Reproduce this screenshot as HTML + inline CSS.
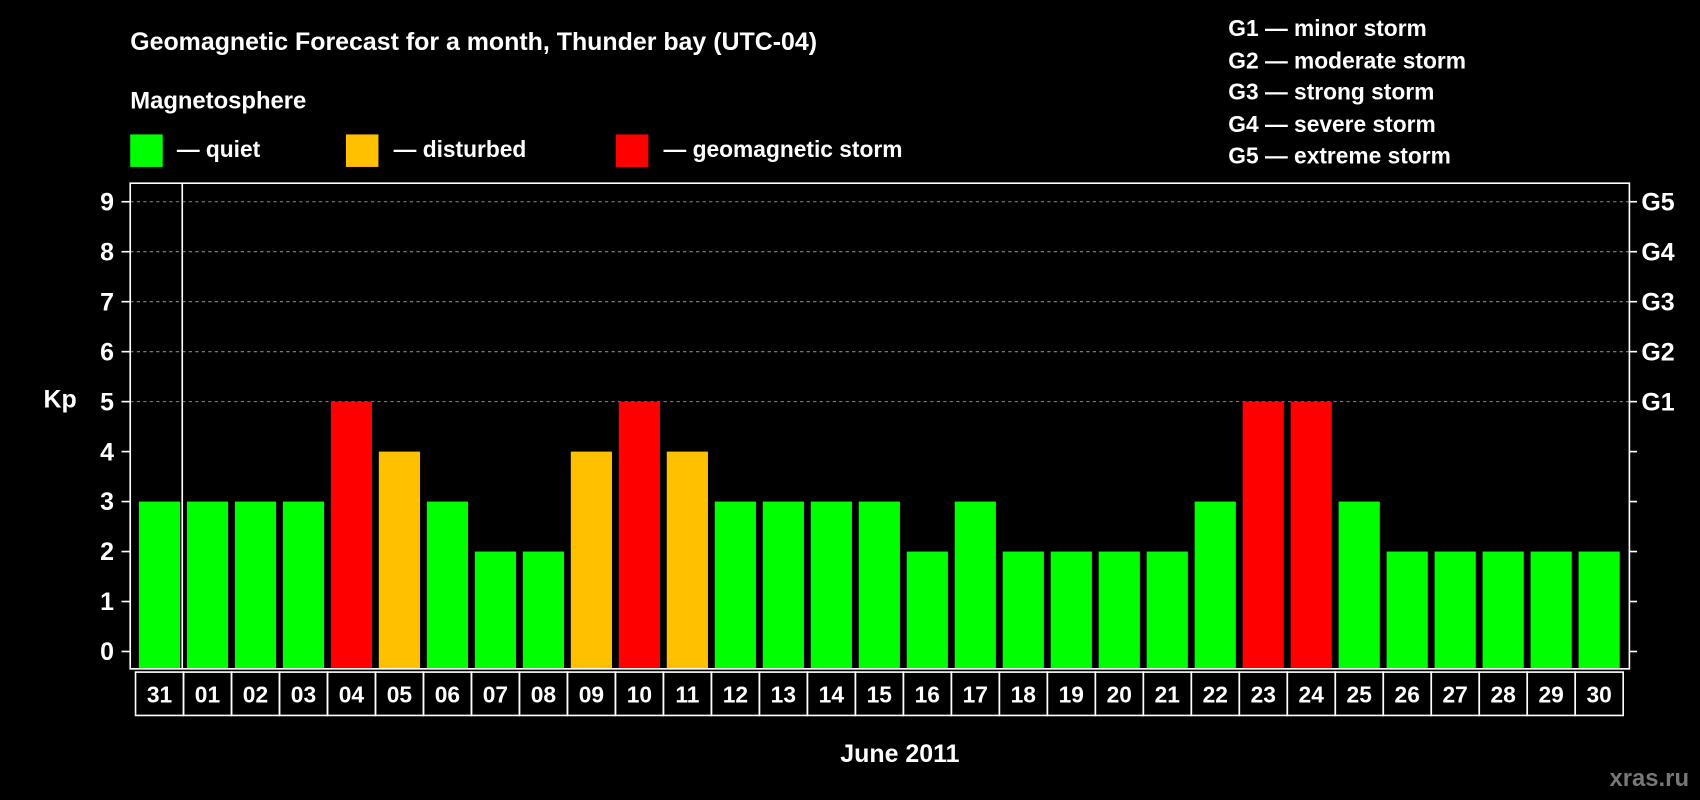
<!DOCTYPE html>
<html><head><meta charset="utf-8"><style>
html,body{margin:0;padding:0;background:#000;}
svg{display:block;font-family:"Liberation Sans",Arial,sans-serif;font-weight:bold;}
</style></head><body>
<svg id="chart" width="1700" height="800" viewBox="0 0 1568 738" xmlns="http://www.w3.org/2000/svg">
<rect x="0" y="0" width="1568" height="738" fill="#000"/>
<text x="120" y="46" fill="#fff" font-size="23">Geomagnetic Forecast for a month, Thunder bay (UTC-04)</text>
<text x="120" y="100" fill="#fff" font-size="22">Magnetosphere</text>
<g><rect x="120" y="124" width="30" height="30" fill="#00ff00"/><text x="163" y="145" fill="#fff" font-size="21">— quiet</text></g>
<g><rect x="319" y="124" width="30" height="30" fill="#ffc000"/><text x="363" y="145" fill="#fff" font-size="21">— disturbed</text></g>
<g><rect x="568" y="124" width="30" height="30" fill="#ff0000"/><text x="612" y="145" fill="#fff" font-size="21">— geomagnetic storm</text></g>
<g fill="#fff" font-size="21">
<text x="1133" y="33">G1 — minor storm</text>
<text x="1133" y="63">G2 — moderate storm</text>
<text x="1133" y="92">G3 — strong storm</text>
<text x="1133" y="122">G4 — severe storm</text>
<text x="1133" y="151">G5 — extreme storm</text>
</g>
<text x="40" y="376" fill="#fff" font-size="23">Kp</text>
<text x="830" y="703" fill="#fff" font-size="23" text-anchor="middle">June 2011</text>
<text x="1558" y="725" fill="#777" font-size="22" text-anchor="end">xras.ru</text>
<g id="grid"></g><g id="bars"></g><g id="axes"></g><g id="labels"></g>
<rect x="120" y="169" width="1383" height="448" fill="none" stroke="#fff" stroke-width="1.5"/>
<line x1="168" y1="169" x2="168" y2="617" stroke="#fff" stroke-width="1.5"/>
</svg>
<script>
const days = ["31","01","02","03","04","05","06","07","08","09","10","11","12","13","14","15","16","17","18","19","20","21","22","23","24","25","26","27","28","29","30"];
const kp = [3,3,3,3,5,4,3,2,2,4,5,4,3,3,3,3,2,3,2,2,2,2,3,5,5,3,2,2,2,2,2];
const yTicks = [0,1,2,3,4,5,6,7,8,9];
const gLabels = ["G1","G2","G3","G4","G5"];
const gLevels = [5,6,7,8,9];
const NS="http://www.w3.org/2000/svg";
const y = v => 601 - 46.1*v;
const xc = i => 147 + i*44.27;
const BOTTOM = 617;
function mk(tag, attrs, parent){const e=document.createElementNS(NS,tag);for(const k in attrs)e.setAttribute(k,attrs[k]);parent.appendChild(e);return e;}
const grid=document.getElementById('grid'), bars=document.getElementById('bars'), axes=document.getElementById('axes'), labels=document.getElementById('labels');
gLevels.forEach((v,i)=>{
  const l=mk('line',{x1:120,x2:1503,y1:y(v),y2:y(v),stroke:'#888','stroke-dasharray':'3,3','stroke-width':1},grid);
  
  
  const t=mk('text',{x:1514,y:y(v)+8,fill:'#fff','font-size':23},axes);
  t.textContent=gLabels[i];
  
  
});
yTicks.forEach(v=>{
  const tl=mk('line',{x1:112,x2:120,y1:y(v),y2:y(v),stroke:'#fff','stroke-width':1.5},axes);
  
  
  const tr=mk('line',{x1:1503,x2:1510,y1:y(v),y2:y(v),stroke:'#fff','stroke-width':1.5},axes);
  
  
  const t=mk('text',{x:105,y:y(v)+8,fill:'#fff','font-size':23,'text-anchor':'end'},axes);
  t.textContent=v;
  
  
});
days.forEach((d,i)=>{
  const v=kp[i];
  const col=v>=5?'#ff0000':(v>=4?'#ffc000':'#00ff00');
  const b=mk('rect',{x:xc(i)-19,y:y(v),width:38,height:BOTTOM-y(v),fill:col},bars);
  
  
  const c=mk('rect',{x:xc(i)-22.1,y:620,width:44.27,height:40,fill:'none',stroke:'#fff','stroke-width':1.5},labels);
  
  
  const t=mk('text',{x:xc(i),y:648,fill:'#fff','font-size':21,'text-anchor':'middle'},labels);
  t.textContent=d;
  
  
});
</script>
</body></html>
